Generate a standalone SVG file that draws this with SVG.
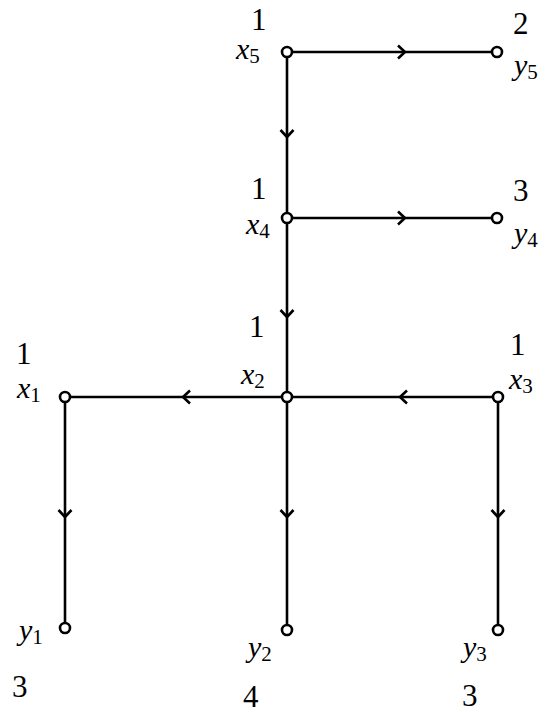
<svg xmlns="http://www.w3.org/2000/svg" width="557" height="714" viewBox="0 0 557 714">
<style>
.e{stroke:#000;stroke-width:2.6;fill:none;marker-mid:url(#ch)}
.n{fill:#fff;stroke:#000;stroke-width:2.6}
</style>
<defs>
<marker id="ch" markerUnits="userSpaceOnUse" viewBox="-10 -8 12 16" markerWidth="12" markerHeight="16" refX="0" refY="0" orient="auto" overflow="visible">
<path d="M-7,-6.5 L0,0 L-7,6.5" fill="none" stroke="#000" stroke-width="2.6"/>
</marker>
</defs>
<g id="edges">
<path class="e" d="M287,52 L405,52 L497,52"/>
<path class="e" d="M287,52 L287,137 L287,218"/>
<path class="e" d="M287,218 L405,218 L497,218"/>
<path class="e" d="M287,218 L287,317 L287,397"/>
<path class="e" d="M287,397 L183,397 L65,397"/>
<path class="e" d="M498,397 L400,397 L287,397"/>
<path class="e" d="M65,397 L65,517 L65,628"/>
<path class="e" d="M287,397 L287,517 L287,630"/>
<path class="e" d="M498,397 L498,517 L498,630"/>
</g>
<g font-family="'Liberation Serif', 'DejaVu Serif', serif" fill="#000">
<g id="x5"><circle class="n" cx="287" cy="52" r="5"/><text font-size="31" x="251" y="30">1</text><text font-style="italic" font-size="30" x="236" y="59">x<tspan font-style="normal" font-size="21" dy="4">5</tspan></text></g>
<g id="y5"><circle class="n" cx="497" cy="52" r="5"/><text font-size="31" x="513" y="34">2</text><text font-style="italic" font-size="30" x="514" y="75">y<tspan font-style="normal" font-size="21" dy="4">5</tspan></text></g>
<g id="x4"><circle class="n" cx="287" cy="218" r="5"/><text font-size="31" x="251" y="199">1</text><text font-style="italic" font-size="30" x="246" y="234">x<tspan font-style="normal" font-size="21" dy="4">4</tspan></text></g>
<g id="y4"><circle class="n" cx="497" cy="218" r="5"/><text font-size="31" x="513" y="201">3</text><text font-style="italic" font-size="30" x="514" y="243">y<tspan font-style="normal" font-size="21" dy="4">4</tspan></text></g>
<g id="x2"><circle class="n" cx="287" cy="397" r="5"/><text font-size="31" x="249" y="337">1</text><text font-style="italic" font-size="30" x="241" y="384">x<tspan font-style="normal" font-size="21" dy="4">2</tspan></text></g>
<g id="x3"><circle class="n" cx="498" cy="397" r="5"/><text font-size="31" x="510" y="355">1</text><text font-style="italic" font-size="30" x="509" y="389">x<tspan font-style="normal" font-size="21" dy="4">3</tspan></text></g>
<g id="x1"><circle class="n" cx="65" cy="397" r="5"/><text font-size="31" x="16" y="364">1</text><text font-style="italic" font-size="30" x="17" y="398">x<tspan font-style="normal" font-size="21" dy="4">1</tspan></text></g>
<g id="y1"><circle class="n" cx="65" cy="628" r="5"/><text font-size="31" x="12" y="697">3</text><text font-style="italic" font-size="30" x="19" y="640">y<tspan font-style="normal" font-size="21" dy="4">1</tspan></text></g>
<g id="y2"><circle class="n" cx="287" cy="630" r="5"/><text font-size="31" x="243" y="707">4</text><text font-style="italic" font-size="30" x="248" y="657">y<tspan font-style="normal" font-size="21" dy="4">2</tspan></text></g>
<g id="y3"><circle class="n" cx="498" cy="630" r="5"/><text font-size="31" x="462" y="706">3</text><text font-style="italic" font-size="30" x="463" y="657">y<tspan font-style="normal" font-size="21" dy="4">3</tspan></text></g>
</g>
</svg>
